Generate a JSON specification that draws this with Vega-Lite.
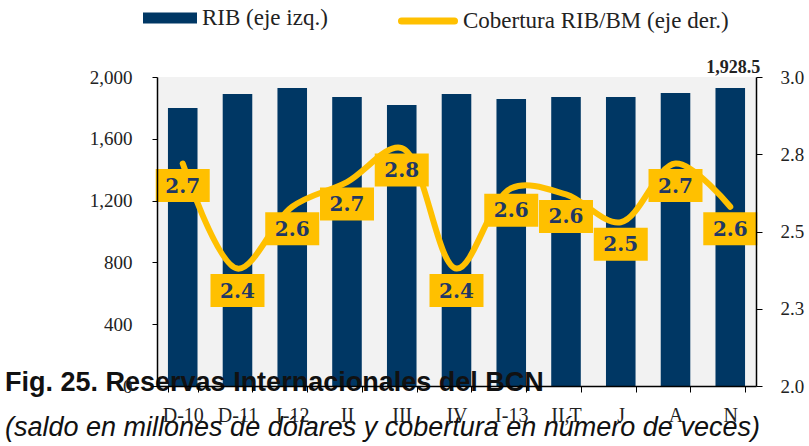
{
  "$schema": "https://vega.github.io/schema/vega-lite/v6.json",
  "autosize": {"type": "none"},
  "width": 599,
  "height": 309,
  "padding": {"left": 157, "top": 77, "right": 53, "bottom": 60},
  "background": "white",
  "config": {"view": {"stroke": null}},
  "title": {
    "text": "Fig. 25. Reservas Internacionales del BCN",
    "subtitle": "(saldo en millones de dólares y cobertura en número de veces)",
    "orient": "bottom",
    "anchor": "start",
    "frame": "group",
    "dx": -152,
    "offset": -55,
    "font": "Liberation Sans",
    "fontSize": 27,
    "fontWeight": "bold",
    "color": "#111111",
    "subtitleFont": "Liberation Sans",
    "subtitleFontSize": 27,
    "subtitleFontStyle": "italic",
    "subtitleColor": "#111111",
    "subtitlePadding": 18
  },
  "data": {
    "values": [
      {"mes": "D-10", "rib": 1800, "cob": 2.72},
      {"mes": "D-11", "rib": 1890, "cob": 2.38},
      {"mes": "I-12", "rib": 1929, "cob": 2.58},
      {"mes": "II", "rib": 1871, "cob": 2.66},
      {"mes": "III", "rib": 1819, "cob": 2.77},
      {"mes": "IV", "rib": 1890, "cob": 2.38},
      {"mes": "I-13", "rib": 1858, "cob": 2.64},
      {"mes": "II,T", "rib": 1871, "cob": 2.62},
      {"mes": "J", "rib": 1871, "cob": 2.53},
      {"mes": "A", "rib": 1897, "cob": 2.72},
      {"mes": "N", "rib": 1928.5, "cob": 2.58}
    ]
  },
  "encoding": {
    "x": {
      "field": "mes",
      "type": "nominal",
      "sort": null,
      "scale": {"paddingInner": 0.46, "paddingOuter": 0.2},
      "axis": {
        "title": null,
        "labelAngle": 0,
        "labelFont": "Liberation Serif",
        "labelFontSize": 20,
        "labelColor": "#222222",
        "labelPadding": 13,
        "tickBand": "extent",
        "tickSize": 6,
        "tickColor": "#000000",
        "domainColor": "#000000",
        "domainWidth": 1.5,
        "zindex": 1
      }
    }
  },
  "layer": [
    {
      "data": {"values": [{"fondo": 1}]},
      "mark": {"type": "rect", "color": "#F2F2F2"},
      "encoding": {
        "x": {"value": 0},
        "x2": {"value": "width"},
        "y": {"value": 0},
        "y2": {"value": "height"}
      }
    },
    {
      "layer": [
        {
          "mark": {"type": "bar"},
          "encoding": {
            "y": {
              "field": "rib",
              "type": "quantitative",
              "scale": {"domain": [0, 2000], "nice": false},
              "axis": {
                "orient": "left",
                "title": null,
                "grid": false,
                "values": [0, 400, 800, 1200, 1600, 2000],
                "format": ",.0f",
                "labelFont": "Liberation Serif",
                "labelFontSize": 19,
                "labelColor": "#222222",
                "labelPadding": 20,
                "tickSize": 5,
                "tickColor": "#000000",
                "domainColor": "#000000",
                "domainWidth": 1.5,
                "zindex": 1
              }
            },
            "fill": {
              "datum": "RIB (eje izq.)",
              "scale": {"range": ["#003764"]},
              "legend": {
                "title": null,
                "orient": "none",
                "legendX": -14,
                "legendY": -86,
                "symbolType": "M-1,-0.2H1V0.2H-1Z",
                "symbolSize": 2916,
                "symbolStrokeWidth": 0,
                "labelFont": "Liberation Serif",
                "labelFontSize": 23,
                "labelColor": "#222222",
                "labelOffset": 5,
                "labelLimit": 500
              }
            }
          }
        },
        {
          "transform": [{"filter": "datum.mes === 'N'"}],
          "mark": {"type": "text", "baseline": "alphabetic", "dy": -15, "dx": 3, "font": "Liberation Serif", "fontSize": 18, "fontWeight": "bold", "color": "#222222"},
          "encoding": {
            "y": {"field": "rib", "type": "quantitative"},
            "text": {"field": "rib", "type": "quantitative", "format": ",.1f"}
          }
        }
      ]
    },
    {
      "layer": [
        {
          "mark": {"type": "line", "interpolate": "catmull-rom", "strokeWidth": 6, "strokeCap": "round"},
          "encoding": {
            "y": {
              "field": "cob",
              "type": "quantitative",
              "scale": {"domain": [2, 3], "nice": false, "zero": false},
              "axis": {
                "orient": "right",
                "title": null,
                "grid": false,
                "values": [2, 2.25, 2.5, 2.75, 3],
                "format": ".1f",
                "labelFont": "Liberation Serif",
                "labelFontSize": 19,
                "labelColor": "#222222",
                "labelPadding": 18,
                "tickSize": 6,
                "tickColor": "#000000",
                "domainColor": "#000000",
                "domainWidth": 1.5,
                "zindex": 1
              }
            },
            "stroke": {
              "datum": "Cobertura RIB/BM (eje der.)",
              "scale": {"range": ["#FFC000"]},
              "legend": {
                "title": null,
                "orient": "none",
                "legendX": 241,
                "legendY": -86,
                "symbolType": "stroke",
                "symbolSize": 2809,
                "symbolStrokeWidth": 7,
                "labelFont": "Liberation Serif",
                "labelFontSize": 23,
                "labelColor": "#222222",
                "labelOffset": 5,
                "labelLimit": 500,
                "encode": {"symbols": {"update": {"strokeCap": {"value": "round"}}}}
              }
            }
          }
        },
        {
          "mark": {"type": "point", "shape": "M-1,-0.61H1V0.61H-1Z", "size": 2916, "filled": true, "color": "#FFC000", "opacity": 1, "yOffset": 22},
          "encoding": {
            "y": {"field": "cob", "type": "quantitative"}
          }
        },
        {
          "mark": {"type": "text", "baseline": "middle", "yOffset": 22, "dy": 1, "font": "DejaVu Serif", "fontSize": 20, "fontWeight": "bold", "color": "#1F3864"},
          "encoding": {
            "y": {"field": "cob", "type": "quantitative"},
            "text": {"field": "cob", "type": "quantitative", "format": ".1f"}
          }
        }
      ]
    }
  ],
  "resolve": {"scale": {"y": "independent", "fill": "independent", "stroke": "independent"}}
}
